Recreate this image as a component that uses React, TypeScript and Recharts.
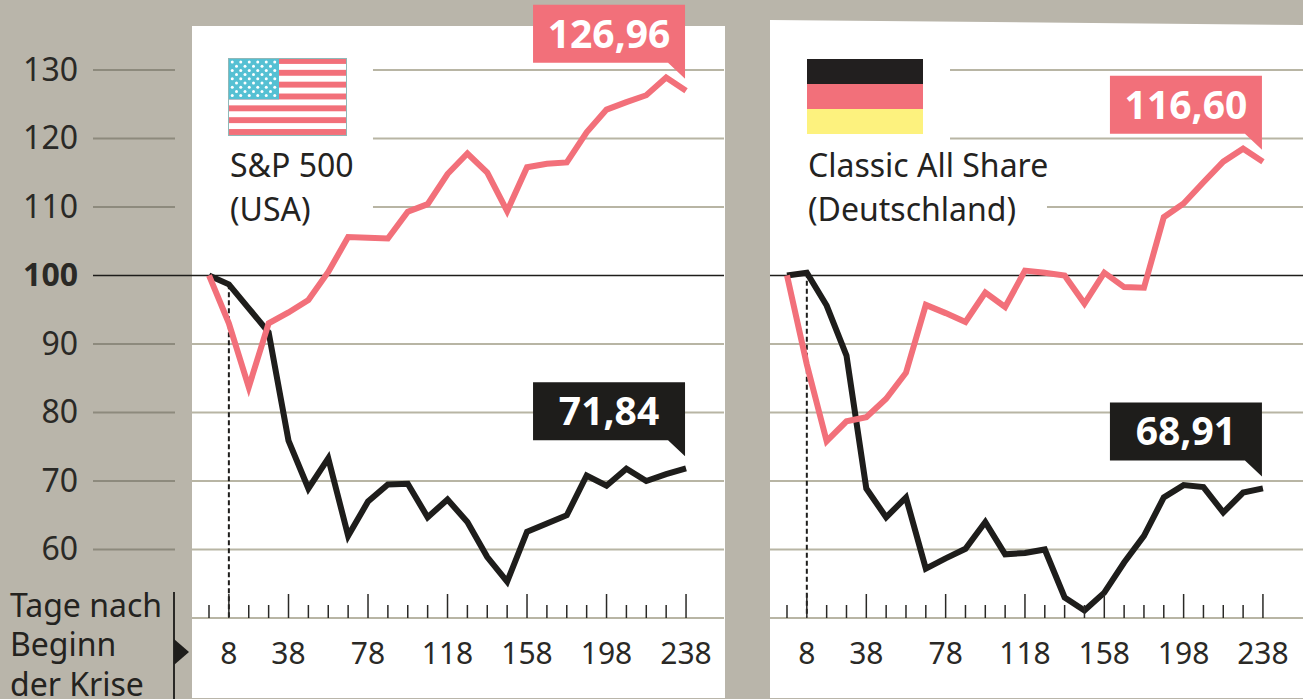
import React from 'react'
import { LineChart, Line, XAxis, YAxis, ReferenceLine } from 'recharts'

const days = [-2, 8, 18, 28, 38, 48, 58, 68, 78, 88, 98, 108, 118, 128, 138, 148, 158, 168, 178, 188, 198, 208, 218, 228, 238]
const labelledDays = [8, 38, 78, 118, 158, 198, 238]
const yTicks = [60, 70, 80, 90, 100, 110, 120, 130]
const gridValues = [60, 70, 80, 90, 110, 120, 130]

const usaBlack = [100, 98.7, 95.2, 91.7, 75.9, 68.9, 73.3, 62.0, 67.0, 69.5, 69.6, 64.7, 67.3, 64.0, 58.9, 55.3, 62.6, 63.8, 65.0, 70.8, 69.3, 71.8, 70.0, 71.0, 71.84]
const usaRed = [100, 93.0, 83.7, 93.0, 94.6, 96.4, 100.5, 105.6, 105.5, 105.4, 109.3, 110.4, 114.8, 117.8, 115.0, 109.4, 115.8, 116.3, 116.5, 120.9, 124.2, 125.3, 126.3, 128.9, 126.96]
const gerBlack = [100, 100.4, 95.6, 88.3, 68.9, 64.7, 67.6, 57.2, 58.7, 60.1, 64.0, 59.3, 59.5, 60.0, 53.0, 51.1, 53.7, 58.1, 62.0, 67.6, 69.4, 69.1, 65.4, 68.3, 68.91]
const gerRed = [100, 87.0, 75.8, 78.7, 79.3, 82.0, 85.8, 95.7, 94.5, 93.2, 97.5, 95.4, 100.7, 100.4, 100.0, 95.9, 100.4, 98.3, 98.2, 108.5, 110.5, 113.6, 116.6, 118.5, 116.6]

const RED = '#f2707a'
const BLACK = '#1e1d1b'
const GRID = '#b8b5a4'
const BG = '#b9b5aa'
const FONT = '"Noto Sans", sans-serif'
const Y_DOMAIN: [number, number] = [50, 140.2]

const toRows = (black: number[], red: number[]) =>
  days.map((day, i) => ({ day, black: black[i], red: red[i] }))

// value box with the little tail pointing at the last point of a line
const Callout = ({ x, y, index, value, boxColor }: any) => {
  if (index !== days.length - 1) return null
  const right = x - 1
  const bottom = y - 28
  return (
    <g>
      <polygon points={`${right - 152},${bottom - 58} ${right},${bottom - 58} ${right},${bottom + 16} ${right - 17},${bottom} ${right - 152},${bottom}`} fill={boxColor} />
      <text x={right - 76} y={bottom - 15} textAnchor="middle" fontFamily={FONT} fontSize={39} fontWeight={700} fill="#fff">
        {String(value.toFixed(2)).replace('.', ',')}
      </text>
    </g>
  )
}

const YTick = ({ x, y, payload }: any) => {
  const isBase = payload.value === 100
  return (
    <g>
      <text x={x - 114} y={y + 11} textAnchor="end" fontFamily={FONT} fontSize={32} fontWeight={isBase ? 700 : 400} fill="#2a2926">
        {payload.value}
      </text>
      <line x1={x - 99} x2={isBase ? x : x - 17} y1={y} y2={y} stroke={isBase ? BLACK : '#8d8a7d'} strokeWidth={isBase ? 1.5 : 2} />
    </g>
  )
}

const XTick = ({ x, y, payload }: any) => {
  const major = labelledDays.includes(payload.value)
  return (
    <g>
      <line x1={x} x2={x} y1={y} y2={y - (major ? 24 : 13)} stroke="#2a2926" strokeWidth={1.5} />
      {major && (
        <text x={x} y={y + 46} textAnchor="middle" fontFamily={FONT} fontSize={30} fill="#2a2926">
          {payload.value}
        </text>
      )}
    </g>
  )
}

type ChartProps = {
  width: number
  yAxisWidth: number
  domain: [number, number]
  black: number[]
  red: number[]
  gridStart: Record<number, number>
}

const IndexChart = ({ width, yAxisWidth, domain, black, red, gridStart }: ChartProps) => (
  <LineChart
    width={width}
    height={699}
    data={toRows(black, red)}
    margin={{ top: 0, right: 0, bottom: 0, left: 0 }}
  >
    <XAxis
      dataKey="day"
      type="number"
      domain={domain}
      ticks={days}
      interval={0}
      height={81}
      tickSize={0}
      tickMargin={0}
      allowDataOverflow
      tick={<XTick />}
      axisLine={{ stroke: GRID, strokeWidth: 2 }}
      tickLine={false}
    />
    <YAxis
      type="number"
      domain={Y_DOMAIN}
      ticks={yTicks}
      interval={0}
      width={yAxisWidth}
      hide={yAxisWidth === 0}
      tickSize={0}
      tickMargin={0}
      tick={<YTick />}
      axisLine={false}
      tickLine={false}
    />
    {gridValues.map(value => (
      <ReferenceLine
        key={value}
        segment={[
          { x: gridStart[value] ?? domain[0], y: value },
          { x: domain[1], y: value },
        ]}
        stroke={GRID}
        strokeWidth={2}
      />
    ))}
    <ReferenceLine y={100} stroke={BLACK} strokeWidth={1.5} />
    <ReferenceLine
      segment={[
        { x: days[1], y: black[1] },
        { x: days[1], y: Y_DOMAIN[0] },
      ]}
      stroke={BLACK}
      strokeWidth={2}
      strokeDasharray="5 3"
    />
    <Line
      dataKey="black"
      type="linear"
      stroke={BLACK}
      strokeWidth={6}
      dot={false}
      isAnimationActive={false}
      label={<Callout boxColor={BLACK} />}
    />
    <Line
      dataKey="red"
      type="linear"
      stroke={RED}
      strokeWidth={6}
      dot={false}
      isAnimationActive={false}
      label={<Callout boxColor={RED} />}
    />
  </LineChart>
)

const UsFlag = () => {
  const stripes = Array.from({ length: 13 }, (_, i) => i)
  const rows = Array.from({ length: 9 }, (_, i) => i)
  return (
    <svg width={119} height={78} style={{ position: 'absolute', left: 228, top: 58 }}>
      <rect width={119} height={78} fill="#fff" />
      {stripes.filter(i => i % 2 === 0).map(i => (
        <rect key={i} x={0} y={i * 5.92} width={119} height={5.92} fill={RED} />
      ))}
      <rect x={0} y={0} width={51} height={41.4} fill="#55c0d3" />
      {rows.map(r =>
        Array.from({ length: r % 2 ? 5 : 6 }, (_, c) => (
          <circle key={`${r}-${c}`} cx={(r % 2 ? 8.5 : 4.25) + c * 8.5} cy={4 + r * 4.2} r={1.5} fill="#fff" />
        ))
      )}
      <rect x={0.5} y={0.5} width={118} height={77} fill="none" stroke="#8fb8b8" strokeWidth={1} />
    </svg>
  )
}

const GermanFlag = () => (
  <div style={{ position: 'absolute', left: 807, top: 59, width: 116, height: 75 }}>
    <div style={{ height: 25, background: '#221f1f' }} />
    <div style={{ height: 25, background: RED }} />
    <div style={{ height: 25, background: '#fdf27e' }} />
  </div>
)

const textStyle = (left: number, top: number): React.CSSProperties => ({
  position: 'absolute',
  left,
  top,
  fontFamily: FONT,
  fontSize: 32,
  lineHeight: '44px',
  color: '#24231f',
  whiteSpace: 'pre',
})

const sideStyle = (top: number): React.CSSProperties => ({
  ...textStyle(10, top),
  lineHeight: '28px',
})

export default function App() {
  return (
    <div style={{ position: 'fixed', left: 0, top: 0, width: 1303, height: 699, overflow: 'hidden', background: BG }}>
      <div style={{ position: 'absolute', left: 192, top: 26, width: 533, height: 672, background: '#fff' }} />
      <div
        style={{
          position: 'absolute',
          left: 770,
          top: 20,
          width: 533,
          height: 678,
          background: '#fff',
          clipPath: 'polygon(0 0, 100% 5px, 100% 100%, 0 100%)',
        }}
      />

      <UsFlag />
      <GermanFlag />
      <div style={textStyle(230, 143)}>{'S&P 500\n(USA)'}</div>
      <div style={textStyle(808, 143)}>{'Classic All Share\n(Deutschland)'}</div>
      <div style={sideStyle(591)}>Tage nach</div>
      <div style={sideStyle(630)}>Beginn</div>
      <div style={sideStyle(670)}>der Krise</div>
      <div style={{ position: 'absolute', left: 173, top: 592, width: 2, height: 107, background: '#2a2926' }} />
      <div
        style={{
          position: 'absolute',
          left: 174,
          top: 639,
          width: 15,
          height: 26,
          background: BLACK,
          clipPath: 'polygon(0 0, 100% 50%, 0 100%)',
        }}
      />

      <div style={{ position: 'absolute', left: 0, top: 0 }}>
        <IndexChart
          width={724}
          yAxisWidth={192}
          domain={[-10.55, 257.1]}
          black={usaBlack}
          red={usaRed}
          gridStart={{ 110: 80.5, 120: 80.5, 130: 80.5 }}
        />
      </div>
      <div style={{ position: 'absolute', left: 770, top: 0 }}>
        <IndexChart
          width={533}
          yAxisWidth={0}
          domain={[-10.57, 258.2]}
          black={gerBlack}
          red={gerRed}
          gridStart={{ 110: 129.1, 120: 80.2, 130: 80.2 }}
        />
      </div>
    </div>
  )
}
